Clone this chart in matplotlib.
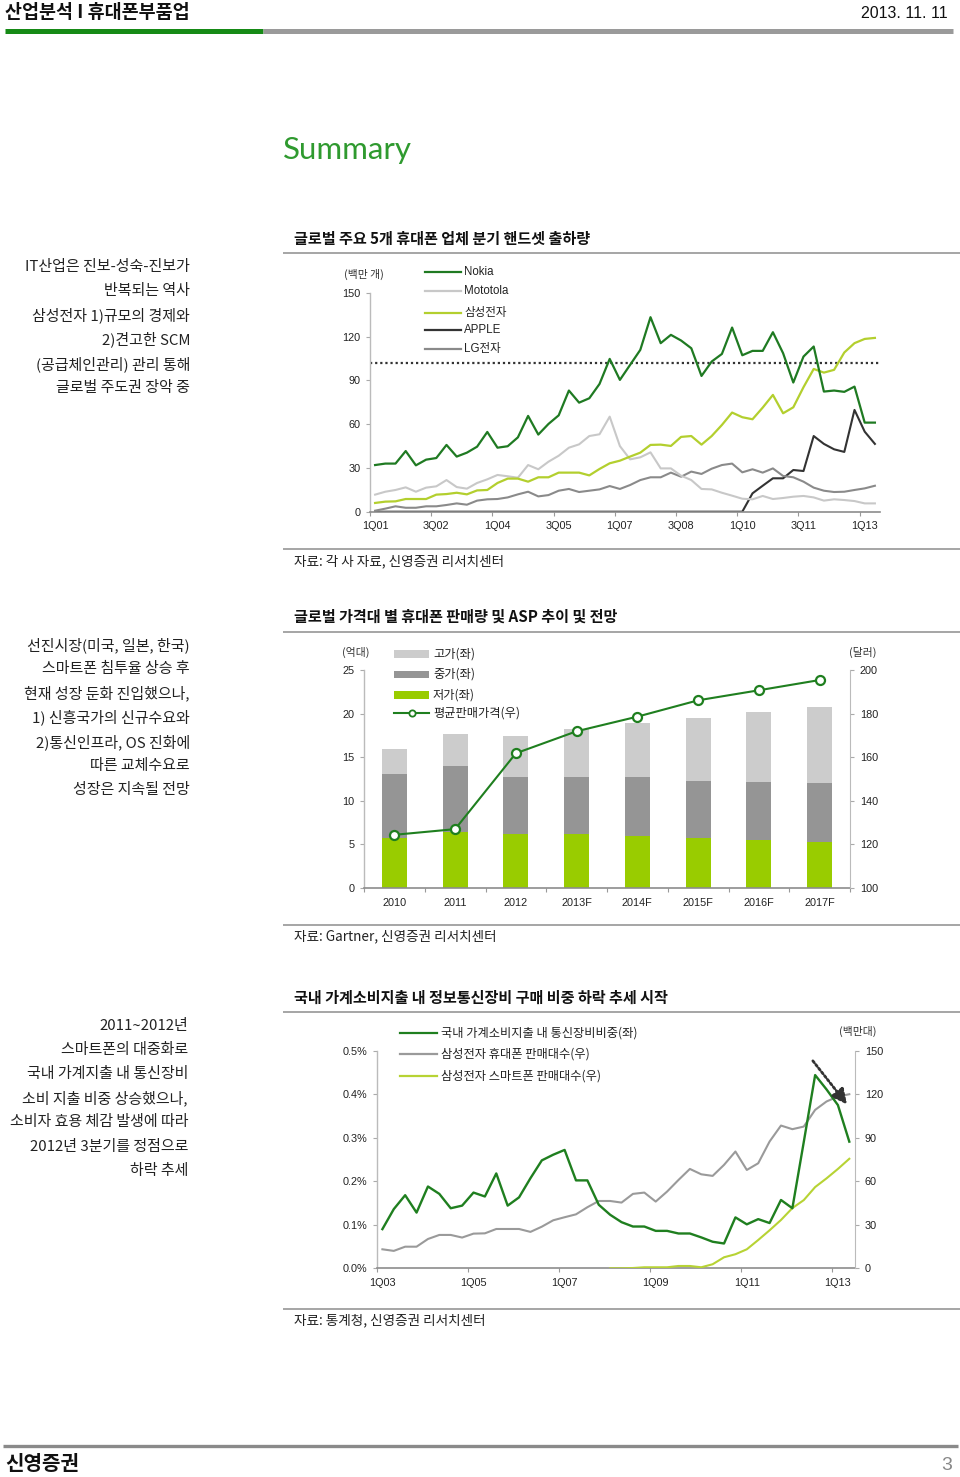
import numpy as np
import matplotlib
matplotlib.use('Agg')
import matplotlib.pyplot as plt
from matplotlib.lines import Line2D
from matplotlib.patches import Rectangle
from matplotlib.ticker import FuncFormatter

plt.rcParams['font.family'] = ['Liberation Sans', 'Noto Sans CJK KR']
plt.rcParams['axes.unicode_minus'] = False

W, H = 960, 1477
KR = ['Noto Sans CJK KR', 'Liberation Sans']
LAT = ['Liberation Sans', 'Noto Sans CJK KR']

# ---------------- Chart 1 data: quarterly handset shipments (million units) ----
q_labels1 = ['1Q01', '3Q02', '1Q04', '3Q05', '1Q07', '3Q08', '1Q10', '3Q11', '1Q13']
nokia = [32.0, 33.0, 33.0, 41.6, 31.8, 35.7, 36.8, 45.8, 37.8, 40.5,
         44.6, 54.7, 43.9, 44.9, 51.0, 65.7, 52.9, 60.2, 66.1, 83.1,
         74.8, 77.8, 87.6, 104.8, 90.4, 100.7, 111.0, 133.4, 115.6, 121.3,
         117.4, 112.1, 93.1, 103.0, 108.2, 126.3, 107.3, 110.3, 110.3, 123.1,
         108.7, 88.6, 106.4, 113.3, 82.4, 83.1, 82.2, 85.8, 61.1, 61.1]
motorola = [11.7, 13.7, 14.9, 16.7, 13.7, 16.5, 17.4, 21.7, 16.9, 15.8,
            19.7, 22.2, 25.2, 24.3, 23.3, 32.0, 29.1, 34.3, 38.4, 43.9,
            46.2, 51.9, 53.1, 65.2, 45.0, 35.9, 37.3, 40.7, 29.7, 29.7,
            24.7, 21.7, 15.6, 15.3, 13.0, 11.0, 8.9, 8.5, 10.8, 8.7,
            9.4, 10.3, 10.8, 9.8, 7.6, 8.5, 8.0, 7.3, 5.7, 5.7]
samsung = [6.0, 6.9, 7.1, 8.7, 8.7, 8.7, 11.7, 12.1, 13.0, 11.9,
           14.6, 14.9, 19.7, 22.7, 22.7, 20.6, 23.6, 23.6, 26.8, 26.8,
           26.8, 24.9, 29.3, 33.2, 35.0, 37.8, 40.5, 45.8, 46.0, 45.1,
           51.3, 51.9, 46.0, 51.9, 59.5, 68.0, 64.8, 63.4, 71.4, 80.1,
           67.5, 71.6, 85.4, 97.9, 95.4, 97.3, 109.2, 115.6, 118.5, 119.2]
apple = [0.0] * 37 + [12.6, 17.8, 22.9, 22.9, 28.6, 27.9, 51.9, 46.5, 42.8,
                      41.0, 69.8, 54.9, 46.5]
lg = [0.7, 2.1, 3.7, 2.7, 2.7, 3.7, 3.7, 4.6, 5.7, 4.8,
      7.6, 8.5, 8.7, 9.8, 11.9, 13.7, 10.5, 11.4, 14.4, 15.6,
      13.5, 14.4, 15.3, 17.6, 15.6, 18.3, 21.7, 23.6, 23.6, 26.8,
      24.0, 27.5, 25.9, 29.5, 32.0, 33.0, 27.0, 29.1, 26.8, 29.7,
      24.5, 23.6, 20.6, 16.5, 14.4, 13.5, 13.7, 14.9, 16.0, 17.8]
ref_level1 = 102
names1 = ['Nokia', 'Mototola', '삼성전자', 'APPLE', 'LG전자']

# ---------------- Chart 2 data: sales by price tier (100M units) & ASP ($) ----
years2 = ['2010', '2011', '2012', '2013F', '2014F', '2015F', '2016F', '2017F']
low2 = [5.7, 6.4, 6.2, 6.2, 6.0, 5.7, 5.5, 5.3]
mid2 = [7.4, 7.6, 6.5, 6.5, 6.7, 6.6, 6.6, 6.7]
high2 = [2.8, 3.7, 4.7, 5.5, 6.2, 7.2, 8.1, 8.7]
asp2 = [124.4, 127.0, 161.8, 171.9, 178.6, 186.1, 190.7, 195.4]
names2 = ['고가(좌)', '중가(좌)', '저가(좌)', '평균판매가격(우)']

# ---------------- Chart 3 data: 1Q03..2Q13 --------------------------------------
q_labels3 = ['1Q03', '1Q05', '1Q07', '1Q09', '1Q11', '1Q13']
ratio3 = [0.090, 0.136, 0.168, 0.128, 0.188, 0.171, 0.138, 0.144, 0.174, 0.165,
          0.218, 0.144, 0.163, 0.207, 0.248, 0.261, 0.272, 0.202, 0.202, 0.146,
          0.123, 0.106, 0.096, 0.096, 0.086, 0.086, 0.080, 0.080, 0.071, 0.061,
          0.057, 0.117, 0.101, 0.113, 0.104, 0.157, 0.138, 0.290, 0.444, 0.411,
          0.375, 0.291]
phones3 = [13.1, 12.0, 14.9, 14.9, 20.2, 23.0, 23.0, 21.2, 23.9, 24.1,
           27.1, 27.1, 27.1, 25.1, 28.7, 33.1, 35.2, 37.2, 42.1, 46.4,
           46.4, 45.3, 51.3, 52.2, 46.0, 52.9, 60.9, 68.5, 64.8, 63.7,
           71.3, 80.5, 67.8, 72.4, 87.4, 98.4, 95.9, 97.7, 109.2, 115.0,
           118.4, 120.0]
smart3 = [np.nan] * 20 + [0.0, 0.0, 0.2, 0.7, 0.7, 0.7, 1.6, 1.6, 0.7, 2.8,
                          7.6, 9.7, 13.1, 19.5, 26.2, 33.3, 41.5, 47.0, 56.0, 62.0,
                          68.5, 75.5]
names3 = ['국내 가계소비지출 내 통신장비비중(좌)', '삼성전자 휴대폰 판매대수(우)',
          '삼성전자 스마트폰 판매대수(우)']
arrow_start3 = (37.8, 143.0)
arrow_end3 = (40.8, 113.0)

# colours
C_NOKIA = '#1f7a22'
C_MOTO = '#c8c8c8'
C_SAM = '#b3cf2e'
C_APPLE = '#333333'
C_LG = '#8a8a8a'
C_HIGH = '#cccccc'
C_MID = '#959595'
C_LOW = '#99cc00'
C_GREEN = '#1f7f1f'

fig = plt.figure(figsize=(9.6, 14.77), dpi=100)


def fx(x):
    return x / W


def fy(y):
    return 1 - y / H


def txt(x, y, s, size, ha='left', va='center', color='#222222', weight='normal', family=None):
    fig.text(fx(x), fy(y), s, fontsize=size, ha=ha, va=va, color=color,
             fontweight=weight, family=family or KR)


def hline(x0, x1, y, color, lw):
    fig.add_artist(Line2D([fx(x0), fx(x1)], [fy(y), fy(y)], transform=fig.transFigure,
                          color=color, lw=lw, solid_capstyle='butt'))


def axes_px(x0, y0, x1, y1):
    return fig.add_axes([fx(x0), fy(y1), (x1 - x0) / W, (y1 - y0) / H])


# ---------------- page furniture ----------------
txt(5, 12, '산업분석 I 휴대폰부품업', 13.3, weight='bold', color='#111111')
txt(948, 13, '2013. 11. 11', 11.5, ha='right', family=LAT, color='#111111')
hline(5, 263, 30.5, '#168a16', 3.6)
hline(263, 953, 30.5, '#9a9a9a', 3.6)
txt(283, 150, 'Summary', 22.5, color='#2f9a2f', family=['Lato', 'DejaVu Sans'])

left1 = ['IT산업은 진보-성숙-진보가', '반복되는 역사', '삼성전자 1)규모의 경제와',
         '2)견고한 SCM', '(공급체인관리) 관리 통해', '글로벌 주도권 장악 중']
for k, s in enumerate(left1):
    txt(190, 267 + 24.2 * k, s, 10.8, ha='right')
left2 = ['선진시장(미국, 일본, 한국)', '스마트폰 침투율 상승 후', '현재 성장 둔화 진입했으나,',
         '1) 신흥국가의 신규수요와', '2)통신인프라, OS 진화에', '따른 교체수요로', '성장은 지속될 전망']
for k, s in enumerate(left2):
    txt(190, 645 + 24.2 * k, s, 10.8, ha='right')
left3 = ['2011~2012년', '스마트폰의 대중화로', '국내 가계지출 내 통신장비', '소비 지출 비중 상승했으나,',
         '소비자 효용 체감 발생에 따라', '2012년 3분기를 정점으로', '하락 추세']
for k, s in enumerate(left3):
    txt(188, 1026 + 24.1 * k, s, 10.8, ha='right')

titles = [(239, 253, '글로벌 주요 5개 휴대폰 업체 분기 핸드셋 출하량', 549, 561, '자료: 각 사 자료, 신영증권 리서치센터'),
          (617, 632, '글로벌 가격대 별 휴대폰 판매량 및 ASP 추이 및 전망', 925, 936, '자료: Gartner, 신영증권 리서치센터'),
          (998, 1012, '국내 가계소비지출 내 정보통신장비 구매 비중 하락 추세 시작', 1309, 1320, '자료: 통계청, 신영증권 리서치센터')]
for ty, ly, t, sy, st, s in titles:
    txt(294, ty, t, 10.9, weight='bold', color='#111111')
    hline(283, 962, ly, '#a5a5a5', 1.4)
    hline(283, 962, sy, '#a5a5a5', 1.4)
    txt(294, st, s, 9.8)

hline(3, 958, 1446, '#8a8a8a', 2.4)
txt(5, 1464, '신영증권', 14.5, weight='bold', color='#111111')
txt(952, 1465, '3', 14, ha='right', color='#888888', family=LAT)


def style_axes(ax, left_c='#bbbbbb', bottom_c='#8c8c8c'):
    for sp in ['top', 'right']:
        ax.spines[sp].set_visible(False)
    ax.spines['left'].set_color(left_c)
    ax.spines['bottom'].set_color(bottom_c)
    ax.spines['left'].set_linewidth(1.0)
    ax.spines['bottom'].set_linewidth(1.2)
    ax.tick_params(axis='y', which='major', length=3, width=0.8, color='#aaaaaa',
                   labelsize=7.8, labelcolor='#222222', pad=4)
    ax.tick_params(axis='x', which='major', length=3, width=0.8, color='#999999',
                   labelbottom=False)
    ax.tick_params(axis='x', which='minor', length=0, labelsize=7.8,
                   labelcolor='#222222', pad=7)
    ax.patch.set_alpha(0)


# ---------------- Chart 1 ----------------
ax1 = axes_px(370, 293, 880, 511.7)
x1 = np.arange(len(nokia))
ax1.plot(x1, apple, color=C_APPLE, lw=1.5, zorder=2)
ax1.plot(x1, lg, color=C_LG, lw=1.5, zorder=2)
ax1.plot(x1, motorola, color=C_MOTO, lw=1.5, zorder=2)
ax1.plot(x1, samsung, color=C_SAM, lw=1.6, zorder=3)
ax1.plot(x1, nokia, color=C_NOKIA, lw=1.6, zorder=4)
ax1.axhline(ref_level1, color='#333333', lw=1.6, linestyle=(0, (1, 1.3)), zorder=1)
ax1.set_xlim(-0.5, len(nokia) - 0.5)
ax1.set_ylim(0, 150)
ax1.set_yticks(np.arange(0, 151, 30))
lab_pos1 = np.arange(0, len(nokia), 6)
ax1.set_xticks(lab_pos1 - 0.5)
ax1.set_xticks(lab_pos1, q_labels1, minor=True)
style_axes(ax1)
txt(344, 274, '(백만 개)', 7.8, ha='left', color='#333333')
leg_y1 = [272, 291, 313, 330, 349]
leg_c1 = [C_NOKIA, C_MOTO, C_SAM, C_APPLE, C_LG]
for yy, c, n in zip(leg_y1, leg_c1, names1):
    fig.add_artist(Line2D([fx(425), fx(461)], [fy(yy), fy(yy)], transform=fig.transFigure,
                          color=c, lw=1.6))
    txt(464, yy, n, 8.3, family=LAT)

# ---------------- Chart 2 ----------------
ax2 = axes_px(364, 670, 850, 888)
x2 = np.arange(len(years2))
bw = 0.41
ax2.bar(x2, low2, bw, color=C_LOW, zorder=2)
ax2.bar(x2, mid2, bw, bottom=low2, color=C_MID, zorder=2)
ax2.bar(x2, high2, bw, bottom=np.array(low2) + np.array(mid2), color=C_HIGH, zorder=2)
ax2.set_xlim(-0.5, len(years2) - 0.5)
ax2.set_ylim(0, 25)
ax2.set_yticks(np.arange(0, 26, 5))
ax2.set_xticks(np.arange(len(years2) + 1) - 0.5)
ax2.set_xticks(x2, years2, minor=True)
style_axes(ax2)
ax2r = ax2.twinx()
ax2r.plot(x2, asp2, color=C_GREEN, lw=1.5, marker='o', ms=6.5, mfc='white',
          mec=C_GREEN, mew=1.6, zorder=5)
ax2r.set_ylim(100, 200)
ax2r.set_yticks(np.arange(100, 201, 20))
for sp in ['top', 'left', 'bottom']:
    ax2r.spines[sp].set_visible(False)
ax2r.spines['right'].set_color('#bbbbbb')
ax2r.tick_params(axis='y', length=3, width=0.8, color='#aaaaaa', labelsize=7.8,
                 labelcolor='#222222', pad=4)
txt(342, 652, '(억대)', 7.8, color='#333333')
txt(877, 652, '(달러)', 7.8, ha='right', color='#333333')
leg_y2 = [654, 674.5, 695]
for yy, c, n in zip(leg_y2, [C_HIGH, C_MID, C_LOW], names2[:3]):
    fig.add_artist(Rectangle((fx(394), fy(yy + 3.7)), 35 / W, 7.4 / H,
                             transform=fig.transFigure, color=c, lw=0))
    txt(433, yy, n, 8.8)
fig.add_artist(Line2D([fx(394), fx(429)], [fy(713), fy(713)], transform=fig.transFigure,
                      color=C_GREEN, lw=1.5))
fig.add_artist(Line2D([fx(411.5)], [fy(713)], transform=fig.transFigure, marker='o',
                      ms=4.5, mfc='white', mec=C_GREEN, mew=1.3))
txt(433, 713, names2[3], 8.8)

# ---------------- Chart 3 ----------------
ax3 = axes_px(376.7, 1050.7, 855, 1268.3)
x3 = np.arange(len(ratio3))
ax3.set_xlim(-0.5, len(ratio3) - 0.5)
ax3.set_ylim(0, 0.5)
ax3.set_yticks(np.arange(0, 0.51, 0.1))
ax3.yaxis.set_major_formatter(FuncFormatter(lambda v, p: f'{v:.1f}%'))
lab_pos3 = np.arange(0, len(ratio3), 8)
ax3.set_xticks(lab_pos3 - 0.5)
ax3.set_xticks(lab_pos3, q_labels3, minor=True)
style_axes(ax3)
ax3r = ax3.twinx()
ax3r.plot(x3, phones3, color='#9a9a9a', lw=1.5, zorder=2)
ax3r.plot(x3, smart3, color='#b7d334', lw=1.5, zorder=3)
# left-axis series drawn on the twin axis scaled so 0.5% == 150
ax3r.plot(x3, np.array(ratio3) * 300, color=C_GREEN, lw=1.7, zorder=4)
ax3r.set_ylim(0, 150)
ax3r.set_yticks(np.arange(0, 151, 30))
for sp in ['top', 'left', 'bottom']:
    ax3r.spines[sp].set_visible(False)
ax3r.spines['right'].set_color('#bbbbbb')
ax3r.tick_params(axis='y', length=3, width=0.8, color='#aaaaaa', labelsize=7.8,
                 labelcolor='#222222', pad=4)
ax3r.annotate('', xy=arrow_end3, xytext=arrow_start3,
              arrowprops=dict(arrowstyle='-|>,head_length=0.9,head_width=0.45',
                              color='#333333', lw=2.0, linestyle=(0, (0.8, 0.9)),
                              shrinkA=0, shrinkB=0), zorder=6)
txt(877, 1031, '(백만대)', 7.8, ha='right', color='#333333')
leg_y3 = [1033, 1054, 1076]
for yy, c, n in zip(leg_y3, [C_GREEN, '#9a9a9a', '#b7d334'], names3):
    fig.add_artist(Line2D([fx(400), fx(437)], [fy(yy), fy(yy)], transform=fig.transFigure,
                          color=c, lw=1.6))
    txt(441, yy, n, 8.8)

fig.savefig('out.png', dpi=100)
